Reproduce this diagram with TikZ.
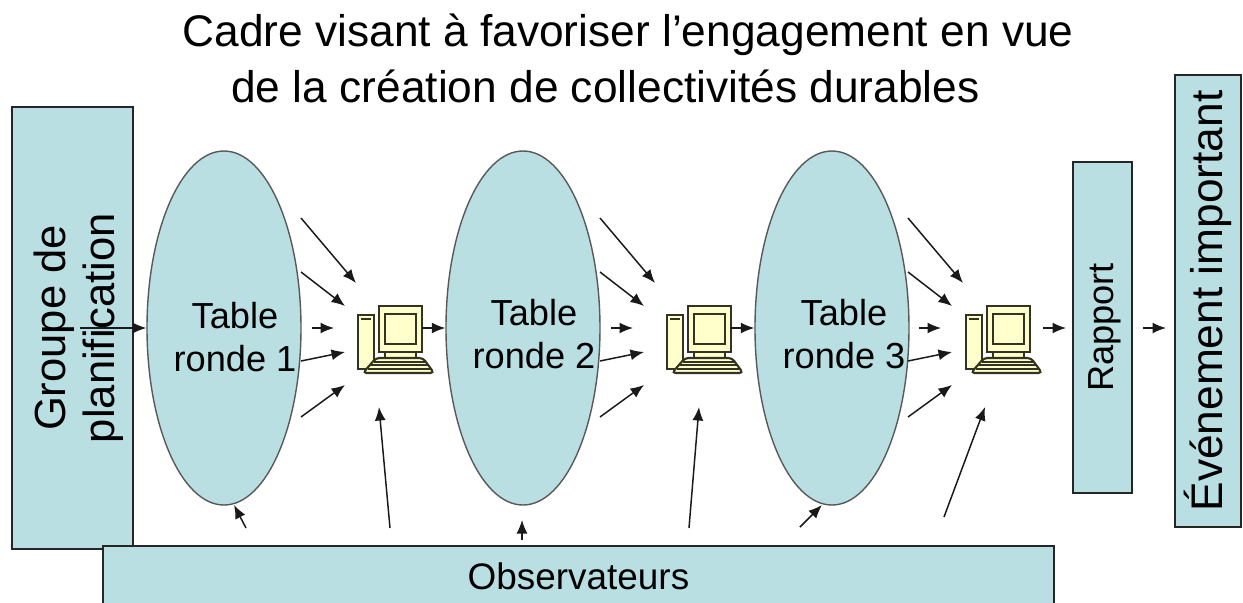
\documentclass[tikz,border=0pt]{standalone}
\usepackage{fontspec}
\setmainfont{Liberation Sans}
\definecolor{paleblue}{HTML}{B9DFE3}
\definecolor{paleyellow}{HTML}{FFFFCC}
\definecolor{darkline}{HTML}{333322}
\usetikzlibrary{arrows.meta,shapes.geometric}
\tikzset{
    box/.style={draw=black!85, line width=0.6pt, fill=paleblue, inner sep=0pt},
    tablering/.style={ellipse, draw=black!65, line width=0.4pt, fill=paleblue, minimum width=1.54cm, minimum height=3.54cm, inner sep=0pt},
    tablename/.style={align=center, inner sep=0pt, font=\fontsize{10.3}{12.3}\selectfont},
    feed/.style={-{Latex[length=1.35mm,width=1.1mm]}, line width=0.42pt, black!90},
    computer/.pic={
        \begin{scope}[draw=darkline, line width=0.45pt, fill=paleyellow]
            % tower
            \filldraw (0,-0.41) rectangle (0.16,0.13);
            \draw[line width=0.7pt] (0.03,0.09) -- (0.13,0.09);
            % neck and monitor
            \filldraw (0.27,-0.30) rectangle (0.58,-0.24);
            \filldraw (0.21,-0.24) rectangle (0.64,0.22);
            \filldraw (0.27,-0.16) rectangle (0.58,0.14);
            % keyboard
            \filldraw[rounded corners=1pt, line width=0.6pt] (0.05,-0.45) -- (0.76,-0.45) -- (0.65,-0.30) -- (0.18,-0.30) -- cycle;
            \draw (0.16,-0.34) -- (0.68,-0.34);
            \draw (0.13,-0.37) -- (0.70,-0.37);
            \draw (0.10,-0.41) -- (0.72,-0.41);
        \end{scope}
    }
}
\begin{document}
\begin{tikzpicture}
    \clip (0,0) rectangle (12.43,6.02);
    % title
    \node[font=\fontsize{12.6}{14}\selectfont] (title1) at (6.28,5.67) {Cadre visant à favoriser l’engagement en vue};
    \node[font=\fontsize{12.6}{14}\selectfont] (title2) at (6.055,5.16) {de la création de collectivités durables};
    % boxes
    \node[box, minimum width=1.21cm, minimum height=4.42cm] (groupe) at (0.725,2.74) {};
    \node[rotate=90, align=center, inner sep=0pt, font=\fontsize{12.4}{13.9}\selectfont] (groupetext) at (0.79,2.74) {Groupe de\\planification};
    \node[box, minimum width=0.59cm, minimum height=3.31cm] (rapport) at (11.025,2.745) {};
    \node[rotate=90, inner sep=0pt, font=\fontsize{10.3}{12}\selectfont] (rapporttext) at (11.05,2.745) {Rapport};
    \node[box, rotate=90, minimum width=4.52cm, minimum height=0.66cm, font=\fontsize{12.6}{14}\selectfont] (event) at (12.08,3.01) {Événement important};
    \node[box, minimum width=9.51cm, minimum height=0.60cm, font=\fontsize{10.5}{12}\selectfont] (observ) at (5.785,0.26) {Observateurs};
    % round tables
    \node[tablering] (table1) at (2.24,2.74) {};
    \node[tablering] (table2) at (5.23,2.74) {};
    \node[tablering] (table3) at (8.32,2.74) {};
    \node[tablename] (name1) at (2.35,2.65) {Table\\ronde 1};
    \node[tablename] (name2) at (5.34,2.68) {Table\\ronde 2};
    \node[tablename] (name3) at (8.44,2.68) {Table\\ronde 3};
    % computers
    \foreach \n/\x in {1/3.58,2/6.67,3/9.66}
        \pic (pc\n) at (\x,2.74) {computer};
    % arrows into each computer
    \foreach \n/\dx in {1/0,2/2.99,3/6.07}
        \foreach \k/\xa/\ya/\xb/\yb in {a/3.01/3.84/3.56/3.19, b/3.01/3.30/3.45/2.96, c/3.12/2.74/3.34/2.74, d/3.01/2.41/3.45/2.50, e/3.01/1.85/3.45/2.17} {
            \coordinate (s\n\k) at (\xa+\dx,\ya);
            \coordinate (t\n\k) at (\xb+\dx,\yb);
            \draw[feed] (s\n\k) -- (t\n\k);
        }
    % arrows along the middle
    \coordinate (groupout) at (0.80,2.74);
    \draw[feed] (groupout) -- (table1.west);
    \coordinate (pc1out) at (4.22,2.74);
    \draw[feed] (pc1out) -- (table2.west);
    \coordinate (pc2out) at (7.30,2.74);
    \draw[feed] (pc2out) -- (table3.west);
    \coordinate (pc3out) at (10.43,2.74);
    \coordinate (rapin) at (10.66,2.74);
    \draw[feed] (pc3out) -- (rapin);
    \coordinate (rapout) at (11.43,2.74);
    \coordinate (eventin) at (11.66,2.74);
    \draw[feed] (rapout) -- (eventin);
    % arrows up from the observers
    \foreach \k/\xa/\ya/\xb/\yb in {a/2.46/0.74/2.34/0.97, b/3.90/0.74/3.79/1.95, c/5.22/0.62/5.22/0.82, d/6.89/0.74/6.99/1.95, e/8.00/0.75/8.22/0.97, f/9.44/0.85/9.85/1.95} {
        \coordinate (ob\k) at (\xa,\ya);
        \coordinate (up\k) at (\xb,\yb);
        \draw[feed] (ob\k) -- (up\k);
    }
\end{tikzpicture}
\end{document}
